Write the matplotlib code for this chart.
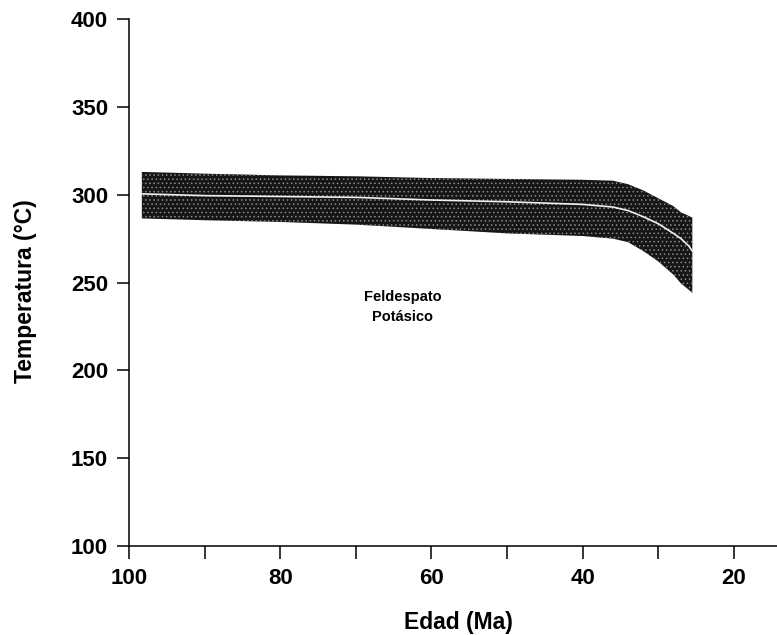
import matplotlib
matplotlib.use("Agg")
import matplotlib.pyplot as plt
from matplotlib.ticker import MultipleLocator

# Edad (Ma) y temperatura del feldespato potásico (banda + curva central)
edad = [98.3, 90, 80, 70, 60, 50, 40, 36, 34, 32, 30, 28, 27, 26, 25.5]
t_sup = [313, 312, 311, 310.5, 309.5, 309, 308.5, 308, 306, 302.5, 298, 293.5, 290, 288, 287]
t_inf = [286.5, 285.5, 284.5, 283, 280.5, 278, 276.5, 275, 273, 268, 262, 254.5, 249.5, 246, 244]
t_med = [300.5, 299.5, 299, 298.5, 297, 296, 294.5, 293, 291, 287.5, 283.5, 278, 275, 271, 268]

plt.rcParams['font.family'] = ['Liberation Sans', 'DejaVu Sans']
plt.rcParams['font.weight'] = 'bold'
plt.rcParams['hatch.linewidth'] = 0.6

fig = plt.figure(figsize=(7.77, 6.35), dpi=100)
ax = fig.add_axes([0.166, 0.140, 0.834, 0.830])

ax.fill_between(edad, t_inf, t_sup, facecolor='#161616', edgecolor='#8a8a8a',
                hatch='....', linewidth=0)
ax.plot(edad, t_med, color='#f0f0f0', lw=1.2)

ax.text(63.8, 236, 'Feldespato\nPotásico', ha='center', va='center',
        fontsize=10.5, fontweight='bold', linespacing=1.6)

ax.set_xlim(100, 14.3)
ax.set_ylim(100, 400)
ax.xaxis.set_major_locator(MultipleLocator(20))
ax.xaxis.set_minor_locator(MultipleLocator(10))
ax.yaxis.set_major_locator(MultipleLocator(50))

for s in ['top', 'right']:
    ax.spines[s].set_visible(False)
for s in ['left', 'bottom']:
    ax.spines[s].set_linewidth(1.1)

ax.tick_params(axis='both', which='both', direction='out', width=1.1, labelsize=16)
ax.tick_params(axis='x', which='both', length=9.5, pad=6)
ax.tick_params(axis='y', which='major', length=9, pad=6)
for lab in ax.get_xticklabels() + ax.get_yticklabels():
    lab.set_fontweight('bold')

ax.set_xlabel('Edad (Ma)', fontsize=16.5, fontweight='bold')
ax.set_ylabel('Temperatura (°C)', fontsize=16.5, fontweight='bold')
ax.xaxis.set_label_coords(0.508, -0.123)
ax.yaxis.set_label_coords(-0.142, 0.484)

fig.savefig('out.png', dpi=100)
